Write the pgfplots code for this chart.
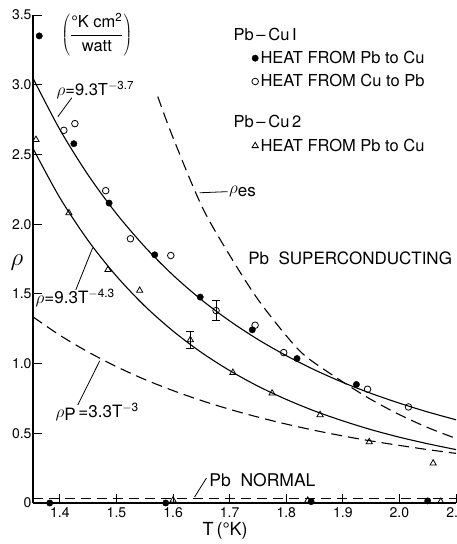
\documentclass[border=0pt]{standalone}
\usepackage{pgfplots}
\pgfplotsset{compat=1.18}
\usepackage{fontspec}
\setmainfont{TeX Gyre Heros}

\begin{document}
\begin{tikzpicture}
\begin{axis}[
  at={(0,0)}, anchor=south west,
  scale only axis, width=423pt, height=488pt,
  xmin=1.3525, xmax=2.1, ymin=0, ymax=3.5,
  axis lines=left, axis line style={-, line width=1.3pt},
  clip=false,
  xtick={1.4,1.5,1.6,1.7,1.8,1.9,2.0,2.1},
  xticklabels={1.4,1.5,1.6,1.7,1.8,1.9,2.0,2.1},
  ytick={0,0.5,1.0,1.5,2.0,2.5,3.0,3.5},
  yticklabels={0,0.5,1.0,1.5,2.0,2.5,3.0,3.5},
  tick align=inside, major tick length=9pt,
  tick style={line width=1pt, black},
  tick label style={font=\fontsize{14}{16}\selectfont},
  xticklabel style={yshift=-1pt},
  yticklabel style={xshift=2pt},
  legend cell align=left,
  legend style={draw=none, fill=none, inner sep=0pt,
    at={(axis description cs:0.513,0.978)}, anchor=north west,
    font=\fontsize{16.5}{18}\selectfont, row sep=5.5pt},
  legend image code/.code={\draw[#1, mark repeat=2, mark phase=2]
    plot coordinates {(0pt,0pt) (5pt,0pt) (13pt,0pt)};},
]

% legend
\addlegendimage{empty legend}
\addlegendentry{\hspace*{-27pt}Pb\,--\,Cu\,I}
\addlegendimage{only marks, mark=*, mark size=3.2pt, black}
\addlegendentry{HEAT FROM Pb to Cu}
\addlegendimage{only marks, mark=o, mark size=3.3pt, black, thick}
\addlegendentry{HEAT FROM Cu to Pb}
\addlegendimage{empty legend}
\addlegendentry{\hspace*{-27pt}\rule{0pt}{30pt}Pb\,--\,Cu\,2}
\addlegendimage{only marks, mark=triangle, mark size=3.6pt, black, thick}
\addlegendentry{HEAT FROM Pb to Cu}

% rho = 9.3 T^-3.7
\addplot[forget plot, smooth, line width=1.1pt] coordinates {
  (1.3525,3.047) (1.40,2.678) (1.45,2.352) (1.50,2.075) (1.55,1.838)
  (1.60,1.634) (1.65,1.458) (1.70,1.306) (1.75,1.173) (1.80,1.057)
  (1.85,0.955) (1.90,0.865) (1.95,0.786) (2.00,0.716) (2.05,0.653) (2.10,0.597)
};
% rho = 9.3 T^-4.3
\addplot[forget plot, smooth, line width=1.1pt] coordinates {
  (1.3525,2.543) (1.40,2.189) (1.45,1.882) (1.50,1.627) (1.55,1.413)
  (1.60,1.233) (1.65,1.080) (1.70,0.950) (1.75,0.838) (1.80,0.743)
  (1.85,0.660) (1.90,0.589) (1.95,0.526) (2.00,0.472) (2.05,0.425) (2.10,0.383)
};
% rho_P = 3.3 T^-3
\addplot[forget plot, smooth, line width=1.1pt, dash pattern=on 11pt off 6pt] coordinates {
  (1.3525,1.335) (1.40,1.203) (1.45,1.083) (1.50,0.978) (1.55,0.886)
  (1.60,0.806) (1.65,0.735) (1.70,0.672) (1.75,0.616) (1.80,0.566)
  (1.85,0.521) (1.90,0.481) (1.95,0.445) (2.00,0.413) (2.05,0.383) (2.10,0.356)
};
% rho_es
\addplot[forget plot, smooth, line width=1.1pt, dash pattern=on 11pt off 6pt] coordinates {
  (1.573,2.915) (1.60,2.62) (1.652,2.118) (1.705,1.744) (1.75,1.46)
  (1.80,1.20) (1.835,1.05) (1.899,0.871) (1.95,0.742) (2.00,0.634)
  (2.05,0.541) (2.10,0.463)
};
% Pb normal
\addplot[forget plot, line width=1.1pt, dash pattern=on 10pt off 6pt] coordinates {
  (1.3525,0.035) (2.10,0.035)
};

% Pb-Cu 1, heat from Pb to Cu
\addplot[forget plot, only marks, mark=*, mark size=3.2pt, black] coordinates {
  (1.3635,3.35) (1.4247,2.577) (1.487,2.151) (1.5676,1.780) (1.648,1.477)
  (1.740,1.242) (1.819,1.036) (1.924,0.850)
  (1.382,0) (1.587,0) (1.844,0.01) (2.050,0.015)
};
% Pb-Cu 1, heat from Cu to Pb
\addplot[forget plot, only marks, mark=o, mark size=3.3pt, black, thick,
  mark options={fill=white}] coordinates {
  (1.407,2.673) (1.4265,2.721) (1.481,2.240) (1.5247,1.895) (1.596,1.775)
  (1.745,1.275) (1.7956,1.079) (1.9437,0.816) (2.016,0.689)
};
\addplot[forget plot, only marks, mark=o, mark size=3.3pt, black, thick,
  mark options={fill=white},
  error bars/.cd, y dir=both, y explicit,
  error bar style={line width=1pt}, error mark options={rotate=90, mark size=4pt, line width=1pt}]
  coordinates {(1.676,1.38) +- (0,0.07)};
% Pb-Cu 2, heat from Pb to Cu
\addplot[forget plot, only marks, mark=triangle, mark size=3.6pt, black, thick,
  mark options={fill=white}] coordinates {
  (1.3577,2.606) (1.416,2.080) (1.485,1.673) (1.541,1.524) (1.7057,0.935)
  (1.775,0.787) (1.8598,0.632) (1.9467,0.438) (2.0596,0.285)
  (1.600,0.02) (1.838,0.018) (2.073,0.01)
};
\addplot[forget plot, only marks, mark=triangle, mark size=3.6pt, black, thick,
  mark options={fill=white},
  error bars/.cd, y dir=both, y explicit,
  error bar style={line width=1pt}, error mark options={rotate=90, mark size=4pt, line width=1pt}]
  coordinates {(1.6305,1.17) +- (0,0.06)};

% annotations
\node[font=\fontsize{16.5}{18}\selectfont] at (axis cs:1.4653,3.36)
  {$\left(\displaystyle\frac{\mbox{°K cm\textsuperscript{2}}}{\mbox{watt}}\right)$};
\node[font=\fontsize{16.5}{18}\selectfont, anchor=west, inner sep=0pt] at (axis cs:1.394,2.96)
  {$\rho$=9.3T\textsuperscript{$-$3.7}};
\draw[line width=0.8pt] (axis cs:1.4212,2.907) -- (axis cs:1.3965,2.771);
\node[font=\fontsize{17}{19}\selectfont, anchor=west, inner sep=0pt] at (axis cs:1.357,1.47)
  {$\rho$=9.3T\textsuperscript{$-$4.3}};
\draw[line width=0.8pt] (axis cs:1.4282,1.529) -- (axis cs:1.458,1.831);
\node[font=\fontsize{17}{19}\selectfont, anchor=west, inner sep=0pt] at (axis cs:1.392,0.655)
  {$\rho$\raisebox{-3pt}{P}\,=3.3T\textsuperscript{$-$3}};
\draw[line width=0.8pt] (axis cs:1.4317,0.703) -- (axis cs:1.4705,1.02);
\draw[line width=0.8pt] (axis cs:1.6469,2.225) -- (axis cs:1.6963,2.233);
\node[font=\fontsize{17}{19}\selectfont, anchor=west, inner sep=1pt] at (axis cs:1.697,2.233)
  {$\rho$\raisebox{-3pt}{es}};
\node[font=\fontsize{17}{19}\selectfont] at (axis cs:1.913,1.752) {Pb\ \ SUPERCONDUCTING};
\node[font=\fontsize{17.5}{19}\selectfont, anchor=west] at (axis cs:1.658,0.165) {Pb\ \ NORMAL};
\draw[line width=0.8pt] (axis cs:1.659,0.179) -- (axis cs:1.638,0.043);
\node[font=\fontsize{24}{26}\selectfont] at (axis cs:1.3242,1.723) {$\rho$};
\node[font=\fontsize{18}{20}\selectfont] at (axis cs:1.692,-0.2) {T\,(°K)};
\end{axis}
\pgfresetboundingbox
\useasboundingbox (-33pt,-41pt) rectangle (423pt,503pt);
\end{tikzpicture}
\end{document}
